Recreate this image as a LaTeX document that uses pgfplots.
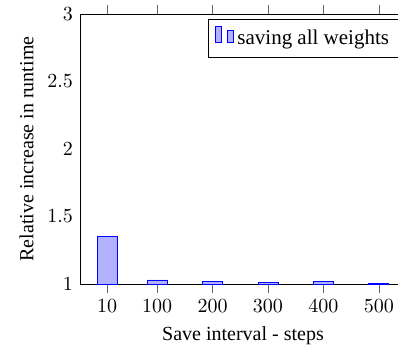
\documentclass[border=0pt]{standalone}
\usepackage{fontspec}
\setmainfont{Liberation Serif}
\usepackage{pgfplots}
\pgfplotsset{compat=1.18}
\begin{document}
\begin{tikzpicture}
\begin{axis}[
  name=ax,
  scale only axis,
  width=163pt, height=135pt,
  ybar, bar width=10pt,
  xmin=-39, xmax=549, ymin=1, ymax=3,
  xtick={10,100,200,300,400,500},
  ytick={1,1.5,2,2.5,3},
  tick align=outside,
  ytick style={draw=none},
  yticklabel shift=-4.2679pt,
  tick style={black!60},
  xlabel={Save interval - steps},
  ylabel={Relative increase in runtime},
  legend style={font=\fontsize{10.5}{12.6}\selectfont, inner ysep=3pt},
]
\addplot coordinates {(10,1.35) (100,1.03) (200,1.018) (300,1.01) (400,1.02) (500,1.005)};
\addlegendentry{saving all weights}
\end{axis}
\pgfresetboundingbox
\path[use as bounding box] (ax.south west) ++(-40pt,-33pt) rectangle ++(199pt,175pt);
\end{tikzpicture}
\end{document}
